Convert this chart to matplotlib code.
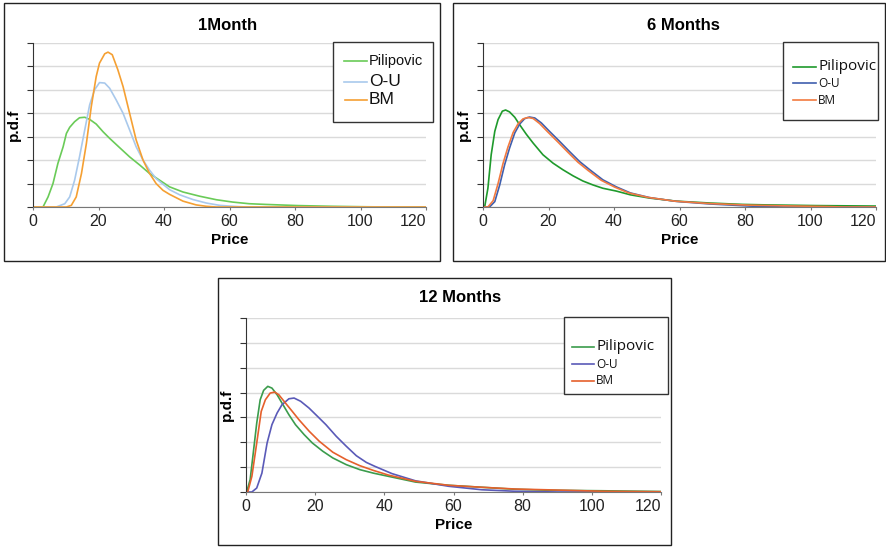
import numpy as np
import matplotlib
matplotlib.use("Agg")
import matplotlib.pyplot as plt
from matplotlib.patches import Rectangle
from matplotlib.lines import Line2D

plt.rcParams['font.family'] = ['Liberation Sans', 'DejaVu Sans']

# ---- 1 month ----
m1_pil_x = [0, 3.05, 4.6, 6.1, 7.6, 9.2, 10.2, 11.2, 12.7, 14.2, 15.8, 17.3, 19.3, 21.4,
            23.4, 26.4, 29.5, 32.6, 35.6, 38.7, 41.7, 45.8, 50.9, 56, 61, 66, 71, 81,
            91.5, 101.7, 110, 120]
m1_pil_y = [0, 0, 0.43, 1.0, 1.86, 2.57, 3.14, 3.4, 3.64, 3.81, 3.83, 3.74, 3.54, 3.21,
            2.93, 2.54, 2.14, 1.79, 1.43, 1.14, 0.86, 0.64, 0.46, 0.31, 0.21, 0.14, 0.11, 0.06,
            0.03, 0.01, 0, 0]
m1_ou_x = [0, 7.1, 9.7, 11.2, 12.7, 14.2, 15.8, 17.3, 18.8, 20.3, 21.9, 23.4, 25.4, 27.5,
           29.5, 31.5, 33.6, 35.6, 37.6, 39.7, 41.7, 44.8, 48.8, 52.9, 57, 61, 65, 120]
m1_ou_y = [0, 0, 0.14, 0.43, 1.14, 2.14, 3.29, 4.36, 5.0, 5.31, 5.29, 5.07, 4.57, 4.0,
           3.29, 2.57, 2.0, 1.57, 1.21, 0.97, 0.74, 0.52, 0.32, 0.17, 0.07, 0.03, 0, 0]
m1_bm_x = [0, 10.2, 11.7, 13.2, 14.8, 16.3, 17.8, 19.3, 20.3, 21.9, 22.9, 24.2, 25.9, 27.5,
           29.5, 31.5, 33.6, 35.6, 37.6, 39.7, 41.7, 45.8, 49.8, 52.9, 56, 120]
m1_bm_y = [0, 0, 0.07, 0.43, 1.43, 2.71, 4.29, 5.57, 6.14, 6.54, 6.61, 6.5, 5.86, 5.14,
           4.0, 2.86, 2.0, 1.43, 1.0, 0.71, 0.54, 0.25, 0.09, 0.03, 0, 0]

# ---- 6 months ----
m6_pil_x = [0, 0.5, 1.5, 2.5, 3.6, 4.6, 5.9, 6.9, 8.1, 9.7, 11.2, 13.2, 15.3, 18.3, 21.4,
            24.4, 27.5, 30.5, 33.6, 36.6, 40.7, 45, 50.9, 59, 69.2, 79.3, 86.5, 101.7, 120]
m6_pil_y = [0, 0, 0.8, 2.23, 3.23, 3.73, 4.09, 4.14, 4.06, 3.83, 3.51, 3.11, 2.73, 2.23, 1.87,
            1.59, 1.33, 1.11, 0.94, 0.8, 0.68, 0.52, 0.38, 0.25, 0.17, 0.11, 0.09, 0.06, 0.04]
m6_ou_x = [0, 2.0, 3.6, 5.1, 6.6, 8.1, 9.7, 11.2, 12.7, 14.2, 15.8, 17.8, 20.3, 23.4, 26.4,
           29.5, 32.6, 36.6, 40.7, 45, 50.9, 59, 69.2, 81.4, 86, 92, 120]
m6_ou_y = [0, 0, 0.23, 0.94, 1.8, 2.51, 3.16, 3.54, 3.77, 3.84, 3.8, 3.59, 3.23, 2.8, 2.37,
           1.94, 1.59, 1.16, 0.86, 0.6, 0.4, 0.24, 0.13, 0.04, 0.02, 0, 0]
m6_bm_x = [0, 1.5, 3.1, 4.6, 6.1, 7.6, 9.2, 10.7, 12.2, 13.7, 15.3, 17.3, 19.8, 22.9, 25.9,
           29.0, 32.1, 36.1, 40.2, 44.5, 50.4, 58.5, 68.8, 81.0, 92, 105, 110, 120]
m6_bm_y = [0, 0, 0.27, 1.0, 1.85, 2.55, 3.18, 3.55, 3.76, 3.82, 3.78, 3.56, 3.2, 2.77, 2.34,
           1.91, 1.56, 1.14, 0.85, 0.6, 0.41, 0.25, 0.15, 0.08, 0.05, 0.02, 0, 0]

# ---- 12 months ----
m12_pil_x = [0, 0.2, 1.2, 2.1, 3.1, 4.1, 5.1, 6.3, 7.5, 9.0, 10.4, 12.4, 14.3, 16.8, 19.2,
             22.2, 25.1, 29, 32.9, 36.8, 41.2, 49, 58.6, 68.2, 77.8, 87.5, 102.9, 120]
m12_pil_y = [0, 0, 0.5, 1.57, 2.77, 3.71, 4.09, 4.25, 4.18, 3.91, 3.58, 3.11, 2.71, 2.31, 1.97,
             1.64, 1.37, 1.1, 0.9, 0.76, 0.63, 0.40, 0.27, 0.19, 0.11, 0.07, 0.05, 0.02]
m12_ou_x = [0, 1.7, 3.1, 4.6, 6.1, 7.5, 9.0, 10.4, 12.4, 13.9, 15.8, 18.2, 20.7, 23.1, 26.1,
            29, 31.9, 34.8, 37.3, 42.2, 49, 58.6, 68.2, 77.8, 90, 120]
m12_ou_y = [0, 0, 0.16, 0.76, 1.97, 2.71, 3.18, 3.51, 3.75, 3.78, 3.65, 3.38, 3.04, 2.71, 2.24,
            1.84, 1.46, 1.19, 1.03, 0.74, 0.45, 0.23, 0.09, 0.03, 0, 0]
m12_bm_x = [0, 0.5, 1.7, 3.1, 4.4, 5.6, 7.0, 8.3, 9.5, 11.4, 13.4, 15.3, 18.3, 21.2, 25.1,
            29, 32.9, 36.8, 41.2, 49, 58.6, 68.2, 77.8, 92.3, 103, 120]
m12_bm_y = [0, 0, 0.63, 1.97, 3.24, 3.71, 3.98, 4.02, 3.91, 3.58, 3.24, 2.91, 2.44, 2.04, 1.6,
            1.3, 1.06, 0.87, 0.68, 0.43, 0.27, 0.19, 0.12, 0.07, 0.03, 0.01]

labels = ['Pilipovic', 'O-U', 'BM']
xticks = [0, 20, 40, 60, 80, 100, 120]

W, H = 886, 547
fig = plt.figure(figsize=(W / 100, H / 100), dpi=100)


def px_box(x0, y0, x1, y1):
    # pixel box (top-left origin) -> figure fraction rect
    return [x0 / W, 1 - y1 / H, (x1 - x0) / W, (y1 - y0) / H]


def frame(x0, y0, x1, y1):
    l, b, w, h = px_box(x0, y0, x1, y1)
    fig.patches.append(Rectangle((l, b), w, h, transform=fig.transFigure,
                                 fill=False, edgecolor='#222222', linewidth=1.0))


def panel(ax_px, title, title_xy, series, legend_px, legend_rows):
    ax = fig.add_axes(px_box(*ax_px))
    for (x, y), color in series:
        ax.plot(x, y, color=color, linewidth=1.2, solid_joinstyle='round')
    ax.set_xlim(0, 120)
    ax.set_ylim(0, 7)
    ax.set_xticks(xticks)
    ax.set_yticks(range(0, 8))
    ax.set_yticklabels([])
    ax.grid(axis='y', color='#dadada', linewidth=1.0)
    ax.set_axisbelow(True)
    ax.spines['top'].set_visible(False)
    ax.spines['right'].set_visible(False)
    ax.spines['left'].set_color('#333333')
    ax.spines['bottom'].set_color('#777777')
    ax.tick_params(axis='y', length=4, color='#333333', direction='out')
    ax.tick_params(axis='x', length=2, color='#777777', labelsize=11.5,
                   labelcolor='#222222', pad=3)
    # keep the last tick label inside the frame
    ax.get_xticklabels()[-1].set_horizontalalignment('right')
    ax.get_xticklabels()[-1].set_x(121.5)
    ax.set_xlabel('Price', fontsize=11, fontweight='bold', labelpad=3)
    ax.set_ylabel('p.d.f', fontsize=11, fontweight='bold', labelpad=1)
    fig.text(title_xy[0] / W, 1 - title_xy[1] / H, title, ha='center', va='center',
             fontsize=12, fontweight='bold')

    # legend box
    lx0, ly0, lx1, ly1 = legend_px
    l, b, w, h = px_box(lx0, ly0, lx1, ly1)
    fig.patches.append(Rectangle((l, b), w, h, transform=fig.transFigure,
                                 facecolor='white', edgecolor='#333333', linewidth=1.0,
                                 zorder=5))
    for (hx0, hx1, ty, label, color, size, family) in legend_rows:
        yy = 1 - ty / H
        fig.lines.append(Line2D([hx0 / W, hx1 / W], [yy, yy], transform=fig.transFigure,
                                color=color, linewidth=1.2, zorder=6))
        fig.text((hx1 + 2) / W, yy, label, ha='left', va='center', fontsize=size,
                 family=family, color='#111111', zorder=7)
    return ax


c1 = ['#6acb58', '#a9c9ec', '#f5a033']
c6 = ['#1f9a2c', '#3f5fae', '#f27a40']
c12 = ['#3b9c4c', '#5a5ab8', '#e5602c']
arial = ['Liberation Sans', 'DejaVu Sans']
calibri = ['Open Sans', 'DejaVu Sans']

frame(4, 3, 440, 261)
frame(453, 3, 885, 261)
frame(218, 278, 671, 545)

panel((33, 43, 426, 207), '1Month', (228, 25),
      [((m1_pil_x, m1_pil_y), c1[0]), ((m1_ou_x, m1_ou_y), c1[1]),
       ((m1_bm_x, m1_bm_y), c1[2])],
      (333, 42, 433, 122),
      [(344, 367, 61, labels[0], c1[0], 10.5, arial),
       (344, 367, 82, labels[1], c1[1], 12.5, arial),
       (345, 367, 100, labels[2], c1[2], 12.5, arial)])

panel((483, 43, 876, 207), '6 Months', (683, 25),
      [((m6_pil_x, m6_pil_y), c6[0]), ((m6_ou_x, m6_ou_y), c6[1]),
       ((m6_bm_x, m6_bm_y), c6[2])],
      (783, 42, 878, 120),
      [(793, 816, 67, labels[0], c6[0], 11, calibri),
       (793, 816, 83, labels[1], c6[1], 8.5, calibri),
       (793, 816, 100, labels[2], c6[2], 8.5, calibri)])

panel((246, 318, 661, 492), '12 Months', (460, 298),
      [((m12_pil_x, m12_pil_y), c12[0]), ((m12_ou_x, m12_ou_y), c12[1]),
       ((m12_bm_x, m12_bm_y), c12[2])],
      (564, 317, 668, 394),
      [(572, 594, 347, labels[0], c12[0], 11, calibri),
       (572, 594, 364, labels[1], c12[1], 8.5, calibri),
       (572, 594, 381, labels[2], c12[2], 8.5, calibri)])

fig.savefig('out.png', dpi=100)
